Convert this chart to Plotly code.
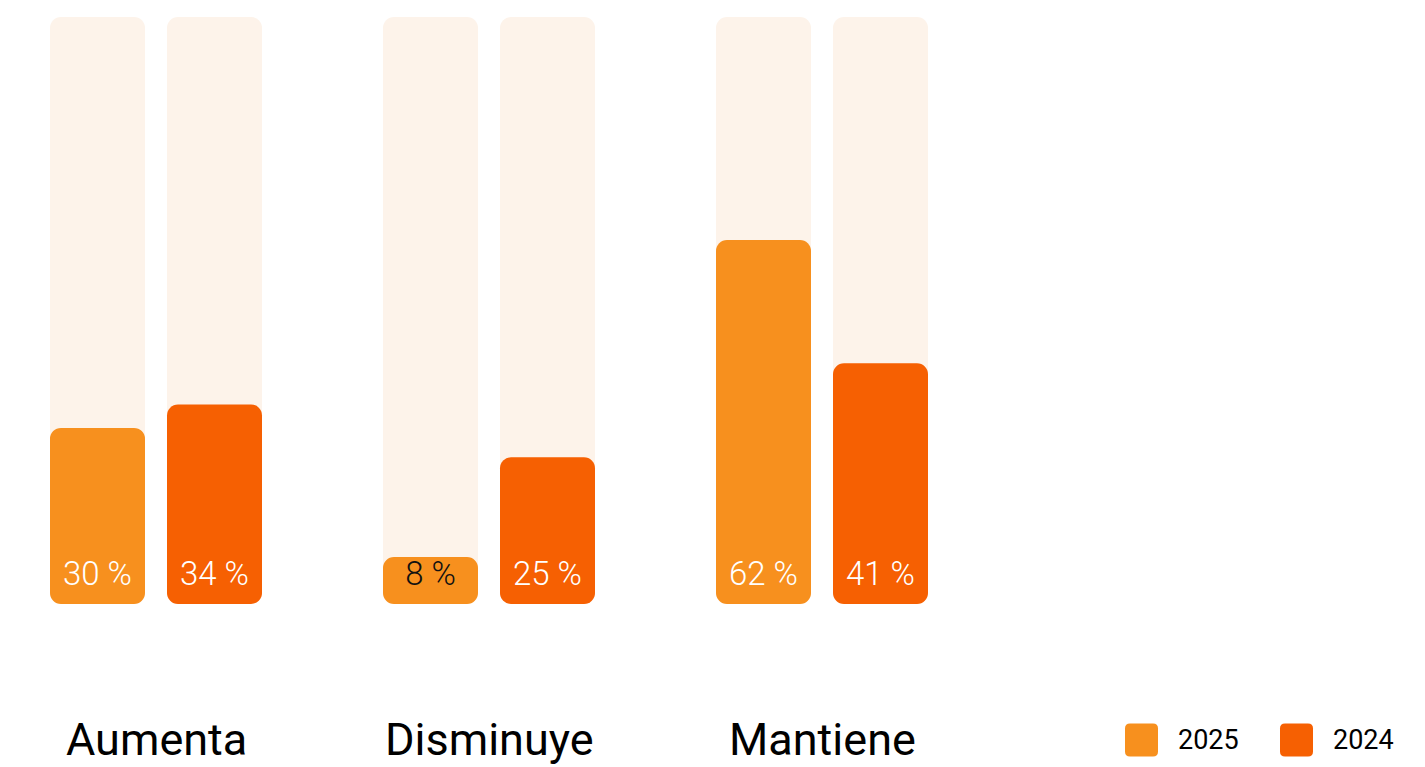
import plotly.graph_objects as go

# ---- data -------------------------------------------------------------
categories = ["Aumenta", "Disminuye", "Mantiene"]
series_names = ["2025", "2024"]
values_2025 = [30, 8, 62]
values_2024 = [34, 25, 41]
track_value = 100

# ---- styling -----------------------------------------------------------
COLORS = {"2025": "#F7901E", "2024": "#F66002"}
TRACK_COLOR = "#FDF3EA"
LABEL_COLORS_2025 = ["white", "#111111", "white"]
LABEL_COLORS_2024 = ["white", "white", "white"]

W, H = 1425, 767
M_TOP, M_BOTTOM = 17, 163
PLOT_H = H - M_TOP - M_BOTTOM
AXIS_PX = H - M_BOTTOM
PX_PER_GROUP = 333.0
FIRST_GROUP_PX = 156.0
BAR_W = 95 / PX_PER_GROUP
BAR_SHIFT = 58.5 / PX_PER_GROUP

x_range = [-FIRST_GROUP_PX / PX_PER_GROUP, (W - FIRST_GROUP_PX) / PX_PER_GROUP]

fig = go.Figure()


def rounded_bars(xs, vals, color, name):
    # an explicit base makes the corner radius apply to both ends of the bar
    fig.add_trace(go.Bar(
        x=xs, y=vals, base=[0] * len(vals), width=BAR_W,
        marker=dict(color=color, line=dict(width=0)),
        name=name, showlegend=False, hoverinfo="skip",
    ))


pos_2025 = [i - BAR_SHIFT for i in range(len(categories))]
pos_2024 = [i + BAR_SHIFT for i in range(len(categories))]

# background tracks (0-100 %)
rounded_bars(pos_2025 + pos_2024, [track_value] * 6, TRACK_COLOR, "track")
# value bars
rounded_bars(pos_2025, values_2025, COLORS["2025"], "2025")
rounded_bars(pos_2024, values_2024, COLORS["2024"], "2024")

# value labels near the bottom of each bar
label_y = 4.7
fig.add_trace(go.Scatter(
    x=pos_2025 + pos_2024,
    y=[label_y] * 6,
    mode="text",
    text=[f"{v} %" for v in values_2025 + values_2024],
    textposition="middle center",
    textfont=dict(family="Roboto", size=33, weight=300,
                  color=LABEL_COLORS_2025 + LABEL_COLORS_2024),
    showlegend=False, hoverinfo="skip",
))

# category names below each group
for i, cat in enumerate(categories):
    fig.add_annotation(x=i, y=(AXIS_PX - H) / PLOT_H, xref="x", yref="paper",
                       text=cat, showarrow=False, xanchor="center", yanchor="bottom",
                       borderpad=0,
                       font=dict(family="Roboto", size=45, color="#000000"))

# legend: rounded swatches + text
legend_x = [1141.5, 1296.5]
legend_y_px = 740
r, s = 5, 16.5
swatch = (f"M {-s + r},{-s} L {s - r},{-s} Q {s},{-s} {s},{-s + r} L {s},{s - r} "
          f"Q {s},{s} {s - r},{s} L {-s + r},{s} Q {-s},{s} {-s},{s - r} "
          f"L {-s},{-s + r} Q {-s},{-s} {-s + r},{-s} Z")
for name, lx in zip(series_names, legend_x):
    fig.add_shape(type="path", path=swatch, xref="paper", yref="paper",
                  xsizemode="pixel", ysizemode="pixel",
                  xanchor=lx / W, yanchor=(AXIS_PX - legend_y_px) / PLOT_H,
                  fillcolor=COLORS[name], line=dict(width=0))
    fig.add_annotation(x=(lx + 34.5) / W, y=(AXIS_PX - legend_y_px) / PLOT_H,
                       xref="paper", yref="paper", text=name, showarrow=False,
                       xanchor="left", yanchor="middle",
                       font=dict(family="Roboto", size=27, color="#000000"))

fig.update_layout(
    width=W, height=H,
    margin=dict(l=0, r=0, t=M_TOP, b=M_BOTTOM),
    barmode="overlay",
    barcornerradius=11,
    plot_bgcolor="white", paper_bgcolor="white",
    xaxis=dict(range=x_range, visible=False, fixedrange=True),
    yaxis=dict(range=[0, track_value], visible=False, fixedrange=True),
    showlegend=False,
)

fig.write_html("out.html", config={"displayModeBar": False})
